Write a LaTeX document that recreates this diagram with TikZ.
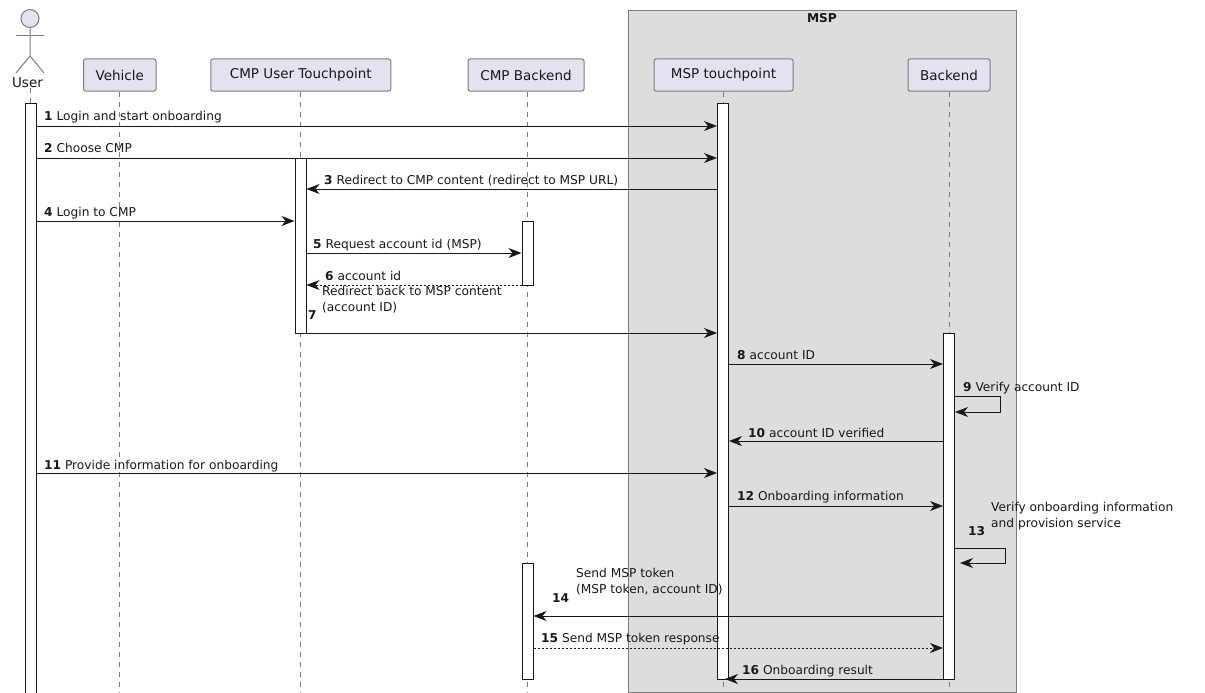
\documentclass[tikz,border=0pt]{standalone}
\usepackage{fontspec}
\setmainfont{DejaVu Sans}
\usetikzlibrary{arrows.meta,calc}
\definecolor{ink}{HTML}{181818}
\definecolor{pfill}{HTML}{E2E2F0}
\definecolor{boxfill}{HTML}{DDDDDD}
\definecolor{edge}{HTML}{7C7C80}
\tikzset{
  x=1pt,y=-1pt,
  part/.style={draw=edge,fill=pfill,rounded corners=2pt,line width=1pt,inner sep=0pt,minimum height=32pt,font=\fontsize{13.5}{16}\selectfont,text=ink},
  life/.style={draw=edge,line width=.8pt,dash pattern=on 5pt off 5pt},
  bar/.style={draw=ink,fill=white,line width=1pt,inner sep=0pt,minimum width=11pt},
  msg/.style={draw=ink,line width=1pt,-{Stealth[length=13pt,width=10pt,inset=4pt]}},
  ret/.style={msg,dash pattern=on 2pt off 2pt},
  lab/.style={anchor=base west,inner sep=0pt,font=\fontsize{12.2}{15.5}\selectfont,text=ink},
  mlab/.style={lab,align=left},
  actorline/.style={draw=edge,line width=1pt},
}
\begin{document}
\begin{tikzpicture}
\useasboundingbox (0,0) rectangle (1205,693);
% group box
\node[draw=edge,fill=boxfill,line width=1pt,inner sep=0pt,minimum width=388pt,minimum height=681pt] (mspbox) at (822,351.5) {};
\node[anchor=base,inner sep=0pt,font=\fontsize{12.2}{15}\selectfont\bfseries,text=ink] (msptitle) at (822,23) {MSP};
% participants
\node[part,minimum width=72.5pt] (vehicle) at (119.75,75) {Vehicle};
\node[part,minimum width=180pt] (cmput) at (300.75,75) {CMP User Touchpoint};
\node[part,minimum width=116pt] (cmpb) at (526,75) {CMP Backend};
\node[part,minimum width=139pt] (msptp) at (723.5,75) {MSP touchpoint};
\node[part,minimum width=82pt] (backend) at (949,75) {Backend};
% actor
\node[draw=edge,fill=pfill,circle,line width=1pt,inner sep=0pt,minimum size=18pt] (userhead) at (30,18.5) {};
\coordinate (hip) at (30,56);
\coordinate (armL) at (16,35.5);
\coordinate (armR) at (44,35.5);
\coordinate (legL) at (16,73);
\coordinate (legR) at (44,73);
\draw[actorline] (userhead) -- (hip) -- (legL);
\draw[actorline] (hip) -- (legR);
\draw[actorline] (armL) -- (armR);
\node[anchor=base,inner sep=0pt,font=\fontsize{13.5}{16}\selectfont,text=ink] (user) at (27.5,88) {User};
% lifeline ends
\coordinate (endU) at (30,693);
\coordinate (endV) at (119,693);
\coordinate (endC) at (300.5,693);
\coordinate (endB) at (527,693);
\coordinate (endM) at (723,693);
\coordinate (endK) at (949,693);
\draw[life] (user.south -| endU) -- (endU);
\draw[life] (vehicle.south -| endV) -- (endV);
\draw[life] (cmput.south -| endC) -- (endC);
\draw[life] (cmpb.south -| endB) -- (endB);
\draw[life] (msptp.south -| endM) -- (endM);
\draw[life] (backend.south -| endK) -- (endK);
% activation bars
\node[bar,minimum height=600pt] (aU) at (30.5,403.5) {};
\node[bar,minimum height=175pt] (aC) at (300.5,245.5) {};
\node[bar,minimum height=64pt] (aB1) at (527.5,253) {};
\node[bar,minimum height=116pt] (aB2) at (527.5,621) {};
\node[bar,minimum height=576pt] (aM) at (723,391) {};
\node[bar,minimum height=346pt] (aK) at (949,506) {};
% messages
\draw[msg] (aU.east |- 0,126) -- (aM.west |- 0,126);
\draw[msg] (aU.east |- 0,158) -- (aM.west |- 0,158);
\draw[msg] (aM.west |- 0,189) -- (aC.east |- 0,189);
\draw[msg] (aU.east |- 0,221) -- (aC.west |- 0,221);
\draw[msg] (aC.east |- 0,253) -- (aB1.west |- 0,253);
\draw[ret] (aB1.west |- 0,285) -- (aC.east |- 0,285);
\draw[msg] (aC.east |- 0,333) -- (aM.west |- 0,333);
\draw[msg] (aM.east |- 0,364) -- (aK.west |- 0,364);
\draw[msg] (aK.east |- 0,396) -- (1000,396) -- (1000,412) -- (aK.east |- 0,412);
\draw[msg] (aK.west |- 0,441) -- (aM.east |- 0,441);
\draw[msg] (aU.east |- 0,473) -- (aM.west |- 0,473);
\draw[msg] (aM.east |- 0,506) -- (aK.west |- 0,506);
\draw[msg] (aK.east |- 0,548) -- (1005,548) -- (1005,563) -- (960,563);
\draw[msg] (aK.west |- 0,616) -- (aB2.east |- 0,616);
\draw[ret] (aB2.east |- 0,648) -- (aK.west |- 0,648);
\draw[msg] (aK.west |- 0,679) -- (725,679);
% labels
\node[lab] (l1) at (44,120) {\textbf{1} Login and start onboarding};
\node[lab] (l2) at (44,152) {\textbf{2} Choose CMP};
\node[lab] (l3) at (324,184) {\textbf{3} Redirect to CMP content (redirect to MSP URL)};
\node[lab] (l4) at (44,216) {\textbf{4} Login to CMP};
\node[lab] (l5) at (313,248) {\textbf{5} Request account id (MSP)};
\node[lab] (l6) at (325,280) {\textbf{6} account id};
\node[lab] (l7) at (308,319) {\textbf{7}};
\node[mlab] (t7) at (322,311) {Redirect back to MSP content\\(account ID)};
\node[lab] (l8) at (737,359) {\textbf{8} account ID};
\node[lab] (l9) at (963,391) {\textbf{9} Verify account ID};
\node[lab] (l10) at (748,437) {\textbf{10} account ID verified};
\node[lab] (l11) at (44,469) {\textbf{11} Provide information for onboarding};
\node[lab] (l12) at (737,500) {\textbf{12} Onboarding information};
\node[lab] (l13) at (968,535) {\textbf{13}};
\node[mlab] (t13) at (991,527) {Verify onboarding information\\and provision service};
\node[lab] (l14) at (552,602) {\textbf{14}};
\node[mlab] (t14) at (576,593) {Send MSP token\\(MSP token, account ID)};
\node[lab] (l15) at (541,642) {\textbf{15} Send MSP token response};
\node[lab] (l16) at (742,674) {\textbf{16} Onboarding result};
\end{tikzpicture}
\end{document}
